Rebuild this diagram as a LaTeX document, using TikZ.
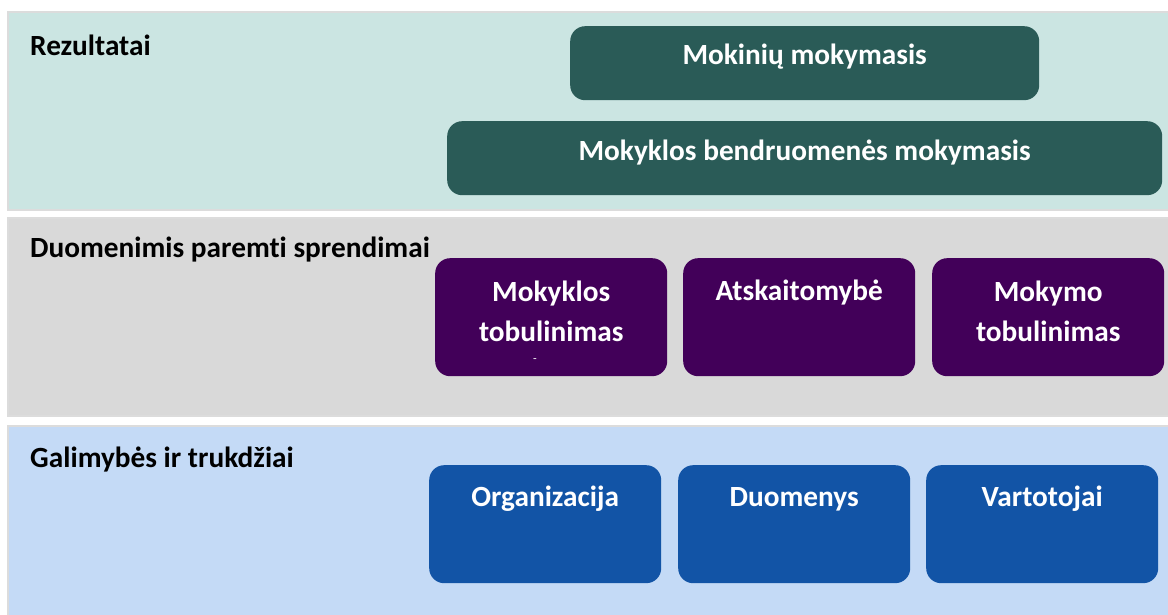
\documentclass[tikz,border=0pt]{standalone}
\usepackage{fontspec}
\setmainfont{Carlito}[Ligatures=NoCommon, Contextuals=NoAlternate]
\usetikzlibrary{positioning}

\definecolor{tealbg}{HTML}{CBE5E2}
\definecolor{graybg}{HTML}{D9D9D9}
\definecolor{bluebg}{HTML}{C4DAF6}
\definecolor{panelline}{HTML}{DCDCDC}
\definecolor{tealbox}{HTML}{2A5B57}
\definecolor{purplebox}{HTML}{420059}
\definecolor{bluebox}{HTML}{1254A6}

\tikzset{
  panel/.style={draw=panelline, line width=1.2pt},
  paneltitle/.style={anchor=west, inner sep=0pt, font=\fontsize{29.3}{34}\selectfont\bfseries},
  box/.style={rounded corners=15pt, inner sep=0pt, anchor=north west},
  boxtext/.style={text=white, align=center, inner sep=0pt, font=\fontsize{29.3}{40}\selectfont\bfseries}
}

\begin{document}
\begin{tikzpicture}[x=1pt, y=-1pt]
  \useasboundingbox (0,0) rectangle (1168,615);

  % layers
  \draw[panel, fill=tealbg] (8,12) rectangle (1170,210);
  \draw[panel, fill=graybg] (8,218) rectangle (1170,416);
  \draw[panel, fill=bluebg] (8,426) rectangle (1170,620);

  \node[paneltitle] (results) at (30,45) {Rezultatai};
  \node[paneltitle] (decisions) at (30,250) {Duomenimis paremti sprendimai};
  \node[paneltitle] (conditions) at (30,460) {Galimybės ir trukdžiai};

  % results
  \node[box, fill=tealbox, minimum width=469pt, minimum height=74pt] (pupils) at (570,26) {};
  \node[boxtext] (pupils-t) at ([yshift=-31pt]pupils.north) {Mokinių mokymasis};
  \node[box, fill=tealbox, minimum width=715pt, minimum height=74pt] (community) at (447,121) {};
  \node[boxtext] (community-t) at ([yshift=-32pt]community.north) {Mokyklos bendruomenės mokymasis};

  % decisions
  \node[box, fill=purplebox, minimum width=232pt, minimum height=118pt] (school) at (435,258) {};
  \node[boxtext] (school-t) at ([yshift=-53pt]school.north) {Mokyklos\\tobulinimas};
  \node[boxtext, font=\fontsize{12}{12}\selectfont] (school-m) at (535,361) {-};
  \node[box, fill=purplebox, minimum width=232pt, minimum height=118pt] (account) at (683,258) {};
  \node[boxtext] (account-t) at ([yshift=-35pt]account.north) {Atskaitomybė};
  \node[box, fill=purplebox, minimum width=232pt, minimum height=118pt] (teaching) at (932,258) {};
  \node[boxtext] (teaching-t) at ([yshift=-53pt]teaching.north) {Mokymo\\tobulinimas};

  % conditions
  \node[box, fill=bluebox, minimum width=232pt, minimum height=118pt] (org) at (429,465) {};
  \node[boxtext] (org-t) at ([yshift=-34pt]org.north) {Organizacija};
  \node[box, fill=bluebox, minimum width=232pt, minimum height=118pt] (data) at (678,465) {};
  \node[boxtext] (data-t) at ([yshift=-34pt]data.north) {Duomenys};
  \node[box, fill=bluebox, minimum width=232pt, minimum height=118pt] (users) at (926,465) {};
  \node[boxtext] (users-t) at ([yshift=-34pt]users.north) {Vartotojai};
\end{tikzpicture}
\end{document}
